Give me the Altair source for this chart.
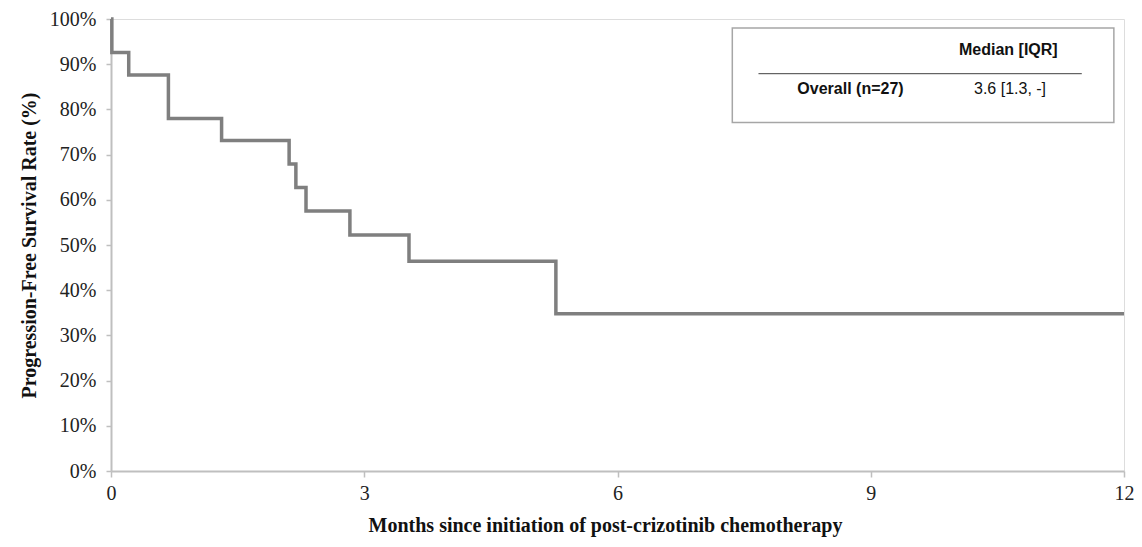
import altair as alt
import pandas as pd

# Kaplan-Meier step data
months = [0, 0.01, 0.21, 0.68, 1.31, 2.11, 2.19, 2.31, 2.83, 3.53, 5.27, 12]
pfs = [100, 92.6, 87.6, 78.0, 73.1, 67.9, 62.7, 57.5, 52.2, 46.4, 34.8, 34.8]
x_ticks = [0, 3, 6, 9, 12]
y_ticks = [0, 10, 20, 30, 40, 50, 60, 70, 80, 90, 100]

# Inset table
table_header = "Median [IQR]"
table_row_label = "Overall (n=27)"
table_row_value = "3.6 [1.3, -]"

df = pd.DataFrame({"month": months, "pfs": pfs})

AXC = "#bfbfbf"
SERIF = "Liberation Serif"
SANS = "Liberation Sans"

xs = alt.Scale(domain=[0, 12], nice=False)
ys = alt.Scale(domain=[0, 100], nice=False)

line = alt.Chart(df).mark_line(
    interpolate="step-after", color="#7f7f7f", strokeWidth=3.5, strokeJoin="miter"
).encode(
    x=alt.X("month:Q", scale=xs, axis=alt.Axis(
        values=x_ticks, format="d", title="Months since initiation of post-crizotinib chemotherapy",
        grid=False, domainColor=AXC, domainWidth=2, tickColor=AXC, tickWidth=1.5, tickSize=6,
        labelFont=SERIF, labelFontSize=20, labelColor="#222222", labelPadding=6, labelFlush=False,
        titleFont=SERIF, titleFontSize=20, titleFontWeight="bold", titleColor="#111111",
        titlePadding=12, titleX=494)),
    y=alt.Y("pfs:Q", scale=ys, axis=alt.Axis(
        values=y_ticks, labelExpr="datum.value + '%'", title="Progression-Free Survival Rate (%)",
        grid=False, domainColor=AXC, domainWidth=2, tickColor=AXC, tickWidth=1.5, tickSize=5,
        labelFont=SERIF, labelFontSize=20, labelColor="#222222", labelPadding=10, labelFlush=False,
        titleFont=SERIF, titleFontSize=20, titleFontWeight="bold", titleColor="#111111",
        titlePadding=10)),
)

box_df = pd.DataFrame({"x": [7.36], "x2": [11.88], "y": [98.0], "y2": [77.1]})
box = alt.Chart(box_df).mark_rect(fill="white", stroke="#a6a6a6", strokeWidth=1.5).encode(
    x=alt.X("x:Q", scale=xs), x2="x2:Q", y=alt.Y("y:Q", scale=ys), y2="y2:Q")

rule_df = pd.DataFrame({"x": [7.67], "x2": [11.5], "y": [87.9]})
rule = alt.Chart(rule_df).mark_rule(color="#404040", strokeWidth=1).encode(
    x=alt.X("x:Q", scale=xs), x2="x2:Q", y=alt.Y("y:Q", scale=ys))

hdr_df = pd.DataFrame({"x": [10.63], "y": [93.2], "t": [table_header]})
hdr = alt.Chart(hdr_df).mark_text(font=SANS, fontSize=16, fontWeight="bold", color="#111111").encode(
    x=alt.X("x:Q", scale=xs), y=alt.Y("y:Q", scale=ys), text="t:N")

row_lab_df = pd.DataFrame({"x": [8.76], "y": [84.6], "t": [table_row_label]})
row_val_df = pd.DataFrame({"x": [10.65], "y": [84.6], "t": [table_row_value]})
row_b = alt.Chart(row_lab_df).mark_text(font=SANS, fontSize=16, fontWeight="bold", color="#111111").encode(
    x=alt.X("x:Q", scale=xs), y=alt.Y("y:Q", scale=ys), text="t:N")
row_n = alt.Chart(row_val_df).mark_text(font=SANS, fontSize=16, color="#111111").encode(
    x=alt.X("x:Q", scale=xs), y=alt.Y("y:Q", scale=ys), text="t:N")

chart = alt.layer(line, box, rule, hdr, row_b, row_n).properties(
    width=1013, height=452,
    autosize=alt.AutoSizeParams(type="none"),
    padding={"left": 103, "top": 11, "right": 10, "bottom": 70},
).configure_view(stroke=None).configure(background="white")

chart.save("out.html", embed_options={"renderer": "svg", "actions": False})
